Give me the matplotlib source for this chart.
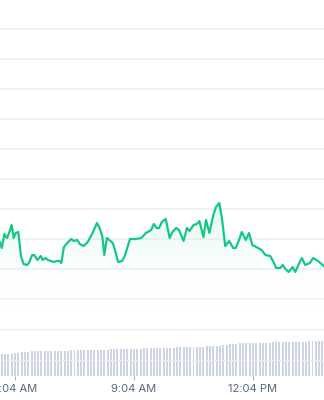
import matplotlib
matplotlib.use('Agg')
import matplotlib.pyplot as plt
import matplotlib.dates as mdates
import numpy as np
import pandas as pd

DAY = '2024-05-14 '

# price line
price_times = ['05:41', '05:44', '05:48', '05:52', '05:55', '05:59', '06:02', '06:05', '06:09', '06:13',
               '06:17', '06:22', '06:25', '06:30', '06:33', '06:38', '06:43', '06:46', '06:50', '06:54',
               '06:58', '07:03', '07:07', '07:11', '07:14', '07:18', '07:23', '07:29', '07:33', '07:38',
               '07:42', '07:48', '07:54', '08:02', '08:08', '08:12', '08:16', '08:19', '08:23', '08:32',
               '08:36', '08:40', '08:46', '08:50', '08:58', '09:07', '09:15', '09:22', '09:30', '09:34',
               '09:38', '09:42', '09:46', '09:52', '09:58', '10:02', '10:08', '10:12', '10:19', '10:24',
               '10:28', '10:34', '10:39', '10:43', '10:49', '10:53', '10:58', '11:04', '11:08', '11:13',
               '11:17', '11:22', '11:28', '11:34', '11:38', '11:44', '11:47', '11:53', '11:58', '12:03',
               '12:09', '12:17', '12:23', '12:30', '12:35', '12:39', '12:45', '12:49', '12:53', '12:58',
               '13:04', '13:08', '13:14', '13:18', '13:23', '13:30', '13:35', '13:40', '13:46', '13:51']
prices = [2.57, 2.51, 2.65, 2.61, 2.66, 2.74, 2.61, 2.66, 2.67, 2.43,
          2.35, 2.34, 2.36, 2.44, 2.44, 2.39, 2.43, 2.39, 2.41, 2.39,
          2.38, 2.37, 2.38, 2.38, 2.36, 2.52, 2.56, 2.60, 2.58, 2.59,
          2.55, 2.53, 2.57, 2.67, 2.76, 2.71, 2.63, 2.44, 2.61, 2.56,
          2.47, 2.37, 2.38, 2.43, 2.60, 2.60, 2.61, 2.66, 2.69, 2.75,
          2.71, 2.71, 2.77, 2.80, 2.61, 2.67, 2.71, 2.69, 2.58, 2.71,
          2.68, 2.74, 2.75, 2.78, 2.62, 2.79, 2.66, 2.84, 2.92, 2.96,
          2.81, 2.53, 2.58, 2.51, 2.51, 2.61, 2.67, 2.59, 2.66, 2.54,
          2.52, 2.49, 2.44, 2.43, 2.37, 2.31, 2.31, 2.34, 2.30, 2.27,
          2.32, 2.27, 2.36, 2.41, 2.34, 2.36, 2.41, 2.39, 2.36, 2.33]

# volume bars, one every 5 minutes from 05:44
volume = [220, 220, 220, 220, 230, 230, 240, 240, 240, 250,
          250, 250, 250, 250, 250, 250, 250, 250, 250, 250,
          250, 260, 260, 260, 260, 260, 260, 260, 260, 260,
          260, 260, 260, 270, 270, 270, 270, 270, 270, 270,
          270, 270, 270, 280, 280, 280, 280, 280, 280, 280,
          280, 280, 280, 290, 290, 290, 290, 290, 290, 290,
          290, 290, 300, 300, 300, 300, 300, 310, 310, 320,
          320, 320, 330, 330, 330, 330, 330, 330, 330, 330,
          330, 330, 340, 340, 340, 340, 340, 340, 340, 340,
          340, 340, 340, 350, 350, 350, 350, 350]

tick_times = ['06:04', '09:04', '12:04']
tick_labels = ['6:04 AM', '9:04 AM', '12:04 PM']

GREEN = '#16c784'
GRID = '#eff2f5'
TEXT = '#58667e'

t = pd.to_datetime([DAY + s for s in price_times])
p = np.array(prices)
vt = pd.date_range(DAY + '05:44', periods=len(volume), freq='5min')
x0 = pd.Timestamp(DAY + '05:41:19')
x1 = pd.Timestamp(DAY + '13:51:24')

fig = plt.figure(figsize=(3.24, 4.0), dpi=100)

# price panel
ax = fig.add_axes([0, 89 / 400, 1, 311 / 400])
ax.set_xlim(x0, x1)
ax.set_ylim(1.88, 4.99)
ax.set_yticks(np.arange(2.0, 4.9, 0.3))
ax.grid(axis='y', color=GRID, linewidth=1.2)
ax.set_axisbelow(True)
ax.tick_params(left=False, bottom=False, labelleft=False, labelbottom=False)
for s in ax.spines.values():
    s.set_visible(False)

# gradient fill under the line
poly = ax.fill_between(t, p, 1.88, color='none', linewidth=0)
grad = np.linspace(0.0, 1.0, 256).reshape(-1, 1)
cmap = matplotlib.colors.LinearSegmentedColormap.from_list(
    'g', [(1, 1, 1, 0), (22 / 255, 199 / 255, 132 / 255, 0.13)])
xn = mdates.date2num([x0, x1])
img = ax.imshow(grad, aspect='auto', cmap=cmap, origin='lower',
                extent=[xn[0], xn[1], 1.88, p.max()], zorder=1)
img.set_clip_path(poly.get_paths()[0], transform=ax.transData)
ax.plot(t, p, color=GREEN, linewidth=1.6, zorder=3, solid_joinstyle='round')
ax.axhline(1.885, color='#c3cad5', linewidth=0.8, linestyle=(0, (1, 3)), zorder=2)
ax.set_xlim(x0, x1)
ax.set_ylim(1.88, 4.99)

# volume panel
axv = fig.add_axes([0, 24 / 400, 1, 47 / 400])
axv.set_xlim(x0, x1)
axv.set_ylim(0, 470)
axv.bar(vt, volume, width=3.0 / 1440, color='#cdd5e4', edgecolor='none', zorder=1)
for yv in (160, 468):
    axv.axhline(yv, color='#e9edf3', linewidth=1, zorder=2)
axv.set_yticks([])
for s in axv.spines.values():
    s.set_visible(False)
axv.set_xticks(pd.to_datetime([DAY + s for s in tick_times]))
axv.set_xticklabels(tick_labels, fontfamily='Inter', fontsize=8, color=TEXT)
axv.tick_params(axis='x', length=3, width=0.8, color='#a6b0c3', pad=3)

fig.savefig('out.png', dpi=100)
